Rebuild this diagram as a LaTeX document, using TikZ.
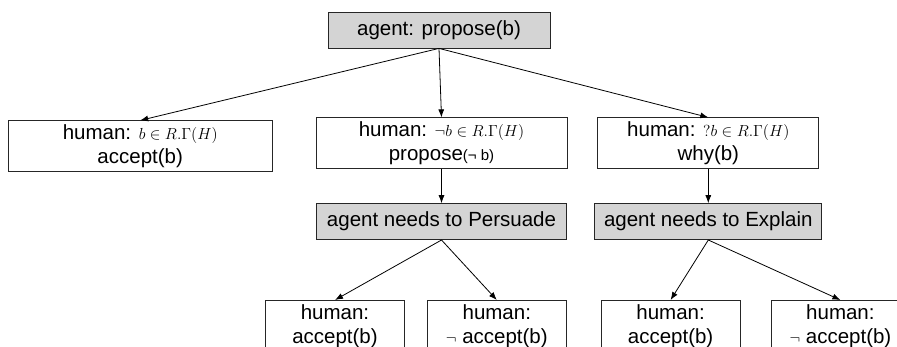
\RequirePackage{fix-cm}
\documentclass[tikz,border=0pt]{standalone}
\usepackage{fontspec}
\setmainfont{Liberation Sans}
\usepackage{tikz}
\usetikzlibrary{positioning,arrows.meta}

\newcommand{\mth}[1]{{\fontsize{16pt}{18pt}\selectfont$#1$}}
\newcommand{\sml}[1]{{\fontsize{15pt}{18pt}\selectfont #1}}

\begin{document}
\begin{tikzpicture}[
  x=1pt,y=1pt,
  font=\fontsize{20.5pt}{24pt}\selectfont,
  box/.style={rectangle,draw=black!85,line width=0.8pt,align=center,inner sep=0pt,minimum height=51pt},
  greybox/.style={box,fill=black!17,minimum height=36pt},
  arrow/.style={-{Latex[length=8pt,width=6pt]},line width=0.8pt}
]
\useasboundingbox (0,0) rectangle (897,-347);
\clip (0,0) rectangle (897,-347);
\node[greybox,minimum width=222pt] (propose) at (439,-30) {agent: propose(b)};
\node[box,minimum width=251pt,below=69pt of propose,xshift=2.5pt] (rejectH) {human: \mth{\neg b \in R.\Gamma(H)}\\propose\sml{(¬ b)}};
\node[box,minimum width=264pt,left=43pt of rejectH,yshift=-3pt] (acceptH) {human: \mth{b \in R.\Gamma(H)}\\accept(b)};
\node[box,minimum width=221pt,right=30pt of rejectH] (whyH) {human: \mth{?b \in R.\Gamma(H)}\\why(b)};
\node[greybox,minimum width=250pt,below=34pt of rejectH] (persuade) {agent needs to Persuade};
\node[greybox,minimum width=227pt,below=34pt of whyH] (explain) {agent needs to Explain};
\node[box,minimum width=139pt,below=60pt of persuade,xshift=-106.5pt] (pAcc) {human:\\accept(b)};
\node[box,minimum width=139pt,right=22pt of pAcc] (pRej) {human:\\\mth{\neg}~accept(b)};
\node[box,minimum width=139pt,right=34pt of pRej] (eAcc) {human:\\accept(b)};
\node[box,minimum width=139pt,right=30pt of eAcc] (eRej) {human:\\\mth{\neg}~accept(b)};
\draw[arrow] (propose.south)--(acceptH.north);
\draw[arrow] (propose.south)--(rejectH.north);
\draw[arrow] (propose.south)--(whyH.north);
\draw[arrow] (rejectH)--(persuade);
\draw[arrow] (whyH)--(explain);
\draw[arrow] (persuade.south)--(pAcc.north);
\draw[arrow] (persuade.south)--(pRej.north);
\draw[arrow] (explain.south)--(eAcc.north);
\draw[arrow] (explain.south)--(eRej.north);
\end{tikzpicture}
\end{document}
